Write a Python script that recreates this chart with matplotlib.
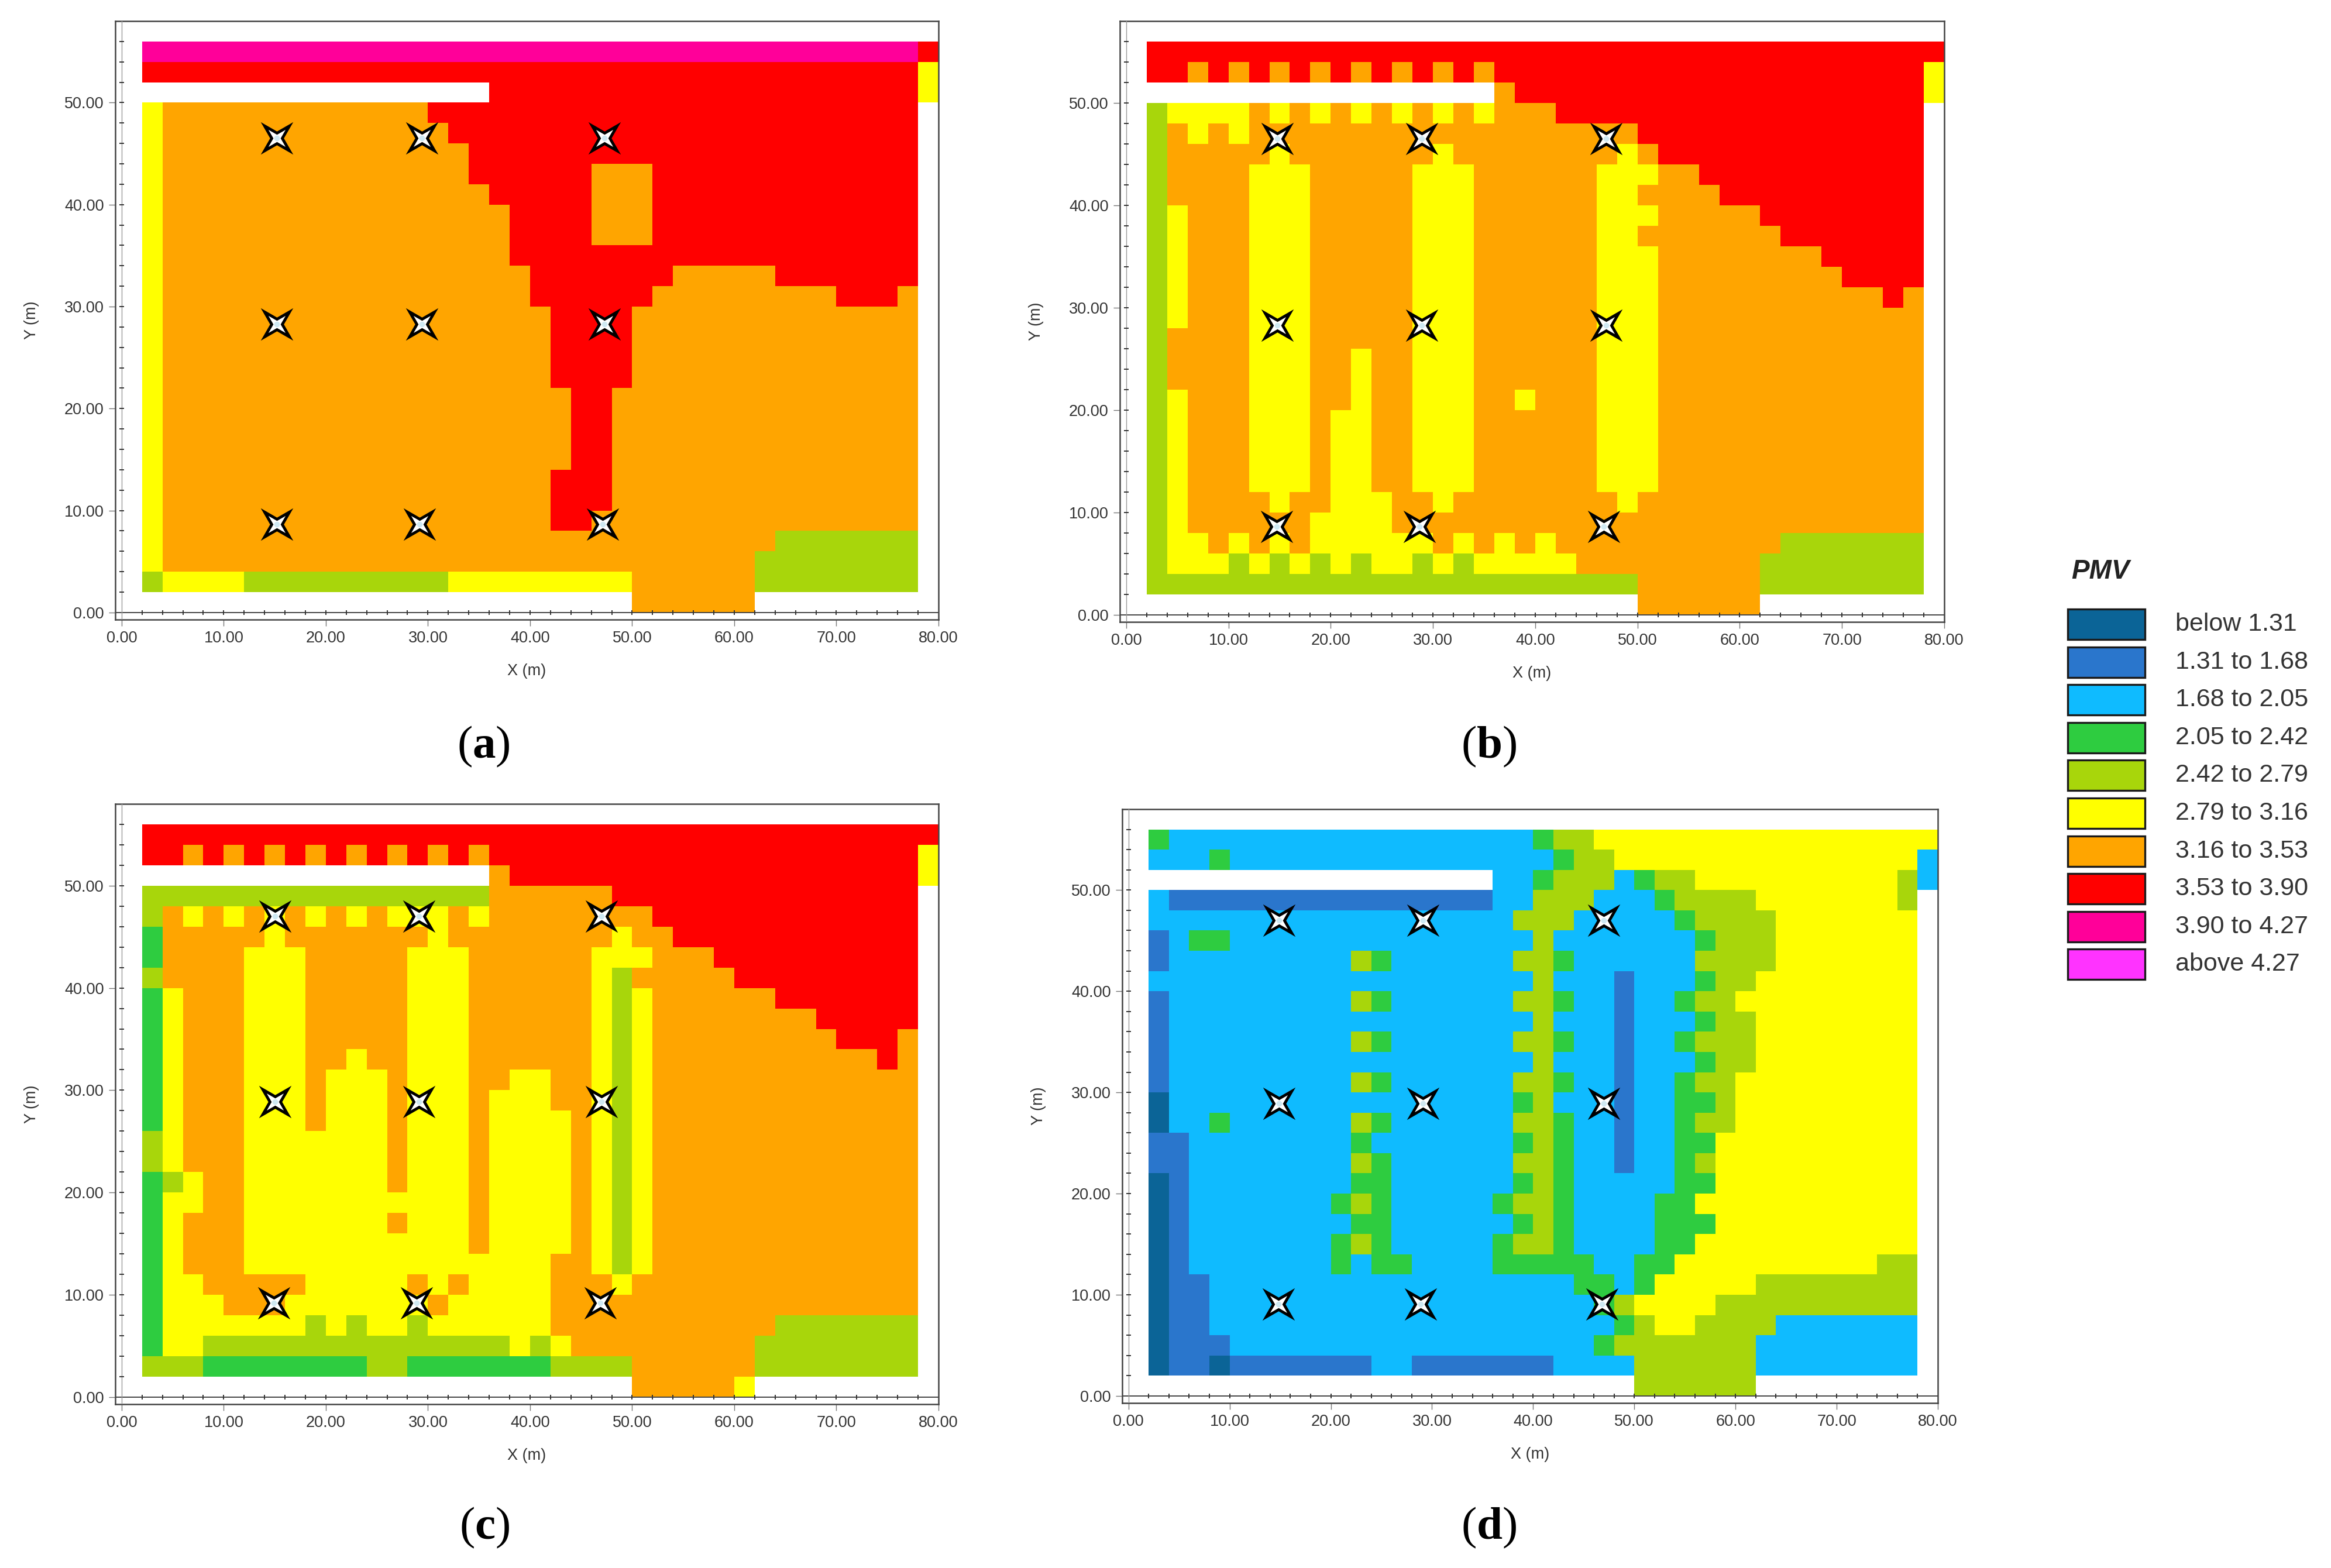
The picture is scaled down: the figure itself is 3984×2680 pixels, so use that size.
import numpy as np
import matplotlib
matplotlib.use("Agg")
import matplotlib.pyplot as plt
from matplotlib.colors import ListedColormap
from matplotlib.patches import Rectangle
from matplotlib.path import Path
from matplotlib.transforms import Affine2D

plt.rcParams['font.family'] = ['Liberation Sans', 'DejaVu Sans']
plt.rcParams['mathtext.fontset'] = 'custom'
plt.rcParams['mathtext.rm'] = 'Liberation Serif'
plt.rcParams['mathtext.bf'] = 'Liberation Serif:bold'

# PMV classes
legend_labels = ["below 1.31", "1.31 to 1.68", "1.68 to 2.05", "2.05 to 2.42", "2.42 to 2.79",
                 "2.79 to 3.16", "3.16 to 3.53", "3.53 to 3.90", "3.90 to 4.27", "above 4.27"]
legend_colors = ["#0B6497", "#2A76CC", "#0FBBFF", "#2ECC40", "#A8D60B",
                 "#FFFF00", "#FFA500", "#FF0000", "#FF0099", "#FF33FF"]

# cell class per 2 m cell, rows from y=54-56 down to y=0-2, blocks of 10 columns (20 m), "." = no cell
grid_a = [
    ".888888888 8888888888 8888888888 8888888887",
    ".777777777 7777777777 7777777777 7777777775",
    ".......... ........77 7777777777 7777777775",
    ".566666666 6666677777 7777777777 777777777.",
    ".566666666 6666667777 7777777777 777777777.",
    ".566666666 6666666777 7777777777 777777777.",
    ".566666666 6666666777 7776667777 777777777.",
    ".566666666 6666666677 7776667777 777777777.",
    ".566666666 6666666667 7776667777 777777777.",
    ".566666666 6666666667 7776667777 777777777.",
    ".566666666 6666666667 7777777777 777777777.",
    ".566666666 6666666666 7777777666 667777777.",
    ".566666666 6666666666 7777776666 666667776.",
    ".566666666 6666666666 6777766666 666666666.",
    ".566666666 6666666666 6777766666 666666666.",
    ".566666666 6666666666 6777766666 666666666.",
    ".566666666 6666666666 6777766666 666666666.",
    ".566666666 6666666666 6677666666 666666666.",
    ".566666666 6666666666 6677666666 666666666.",
    ".566666666 6666666666 6677666666 666666666.",
    ".566666666 6666666666 6677666666 666666666.",
    ".566666666 6666666666 6777666666 666666666.",
    ".566666666 6666666666 6777666666 666666666.",
    ".566666666 6666666666 6776666666 666666666.",
    ".566666666 6666666666 6666666666 664444444.",
    ".566666666 6666666666 6666666666 644444444.",
    ".455554444 4444445555 5555566666 644444444.",
    ".......... .......... .....66666 6.........",
]

grid_b = [
    ".777777777 7777777777 7777777777 7777777777",
    ".776767676 7676767677 7777777777 7777777775",
    ".......... ........67 7777777777 7777777775",
    ".455556565 6565656566 6777777777 777777777.",
    ".465656666 6666666666 6666677777 777777777.",
    ".466666566 6666656666 6666567777 777777777.",
    ".466665556 6666555666 6665556677 777777777.",
    ".466665556 6666555666 6665566667 777777777.",
    ".456665556 6666555666 6665556666 677777777.",
    ".456665556 6666555666 6665566666 667777777.",
    ".456665556 6666555666 6665556666 666677777.",
    ".456665556 6666555666 6665556666 666667777.",
    ".456665556 6666555666 6665556666 666666676.",
    ".456665556 6666555666 6665556666 666666666.",
    ".466665556 6666555666 6665556666 666666666.",
    ".466665556 6566555666 6665556666 666666666.",
    ".466665556 6566555666 6665556666 666666666.",
    ".456665556 6566555665 6665556666 666666666.",
    ".456665556 5566555666 6665556666 666666666.",
    ".456665556 5566555666 6665556666 666666666.",
    ".456665556 5566555666 6665556666 666666666.",
    ".456665556 5566555666 6665556666 666666666.",
    ".456666566 5556656666 6666566666 666666666.",
    ".456666665 5556666666 6666666666 666666666.",
    ".455656565 5555565656 5666666666 664444444.",
    ".455545454 5455454555 5566666666 644444444.",
    ".444444444 4444444444 4444466666 644444444.",
    ".......... .......... .....66666 6.........",
]

grid_c = [
    ".777777777 7777777777 7777777777 7777777777",
    ".776767676 7676767677 7777777777 7777777775",
    ".......... ........67 7777777777 7777777775",
    ".444444444 4444444466 6666777777 777777777.",
    ".465656565 6565556566 6666667777 777777777.",
    ".366666566 6666656666 6666566777 777777777.",
    ".366665556 6666555666 6665556667 777777777.",
    ".466665556 6666555666 6665466666 777777777.",
    ".356665556 6666555666 6665456666 667777777.",
    ".356665556 6666555666 6665456666 666677777.",
    ".356665556 6666555666 6665456666 666667776.",
    ".356665556 6566555666 6665456666 666666676.",
    ".356665556 5556555665 5665456666 666666666.",
    ".356665556 5556555655 5665456666 666666666.",
    ".356665556 5556555655 5565456666 666666666.",
    ".456665555 5556555655 5565456666 666666666.",
    ".456665555 5556555655 5565456666 666666666.",
    ".345665555 5556555655 5565456666 666666666.",
    ".355665555 5555555655 5565456666 666666666.",
    ".356665555 5556555655 5565456666 666666666.",
    ".356665555 5555555655 5565456666 666666666.",
    ".356665555 5555555555 5665456666 666666666.",
    ".355666665 5555656555 5666566666 666666666.",
    ".355566655 5555565555 5666666666 666666666.",
    ".355555554 5455455555 5666666666 664444444.",
    ".355444444 4444444445 4566666666 644444444.",
    ".444333333 3344333333 3444466666 644444444.",
    ".......... .......... .....66666 5.........",
]

grid_d = [
    ".322222222 2222222222 3445555555 5555555555",
    ".222322222 2222222222 2344555555 5555555552",
    ".......... ........22 3444234455 5555555542",
    ".211111111 1111111122 4442223444 455555554.",
    ".222222222 2222222224 4422222344 445555555.",
    ".123322222 2222222222 4222222234 445555555.",
    ".122222222 2432222224 4322222244 445555555.",
    ".222222222 2222222222 4222122234 455555555.",
    ".122222222 2432222224 4322122344 555555555.",
    ".122222222 2222222222 4222122234 455555555.",
    ".122222222 2432222224 4322122344 455555555.",
    ".122222222 2222222222 4222122234 455555555.",
    ".122222222 2432222224 4322122344 555555555.",
    ".022222222 2222222223 4222122334 555555555.",
    ".022322222 2432222224 4322122344 555555555.",
    ".112222222 2322222223 4322122335 555555555.",
    ".112222222 2432222224 4322122345 555555555.",
    ".012222222 2332222223 4322222335 555555555.",
    ".012222222 3432222234 4322223355 555555555.",
    ".012222222 2332222223 4322223335 555555555.",
    ".012222222 3432222234 4322223355 555555555.",
    ".012222222 3233222233 3332233555 555555544.",
    ".011222222 2222222222 2233235555 544444444.",
    ".011222222 2222222222 2223455554 444444444.",
    ".011222222 2222222222 2222345544 442222222.",
    ".011122222 2222222222 2223444444 422222222.",
    ".011011111 1122111111 1222244444 422222222.",
    ".......... .......... .....44444 4.........",
]

# luminaire positions (m)
lamps_a_x = [15.2, 29.4, 47.3, 15.2, 29.4, 47.3, 15.2, 29.2, 47.1]
lamps_a_y = [46.5, 46.5, 46.5, 28.3, 28.3, 28.3, 8.65, 8.65, 8.65]
lamps_b_x = [14.8, 28.9, 46.9, 14.8, 28.9, 46.9, 14.7, 28.7, 46.7]
lamps_b_y = [46.5, 46.5, 46.5, 28.3, 28.3, 28.3, 8.6, 8.6, 8.6]
lamps_c_x = [15.0, 29.1, 47.0, 15.0, 29.1, 47.0, 14.9, 28.9, 46.9]
lamps_c_y = [47.0, 47.0, 47.0, 28.9, 28.9, 28.9, 9.2, 9.2, 9.2]
lamps_d_x = [14.9, 29.1, 47.0, 14.9, 29.1, 47.0, 14.8, 28.9, 46.8]
lamps_d_y = [47.0, 47.0, 47.0, 28.9, 28.9, 28.9, 9.1, 9.1, 9.1]

x_ticks = [0, 10, 20, 30, 40, 50, 60, 70, 80]
y_ticks = [0, 10, 20, 30, 40, 50]

W, H = 3984, 2680
fig = plt.figure(figsize=(W / 100, H / 100), dpi=100, facecolor='white')
cmap = ListedColormap(legend_colors)
star = Path.unit_regular_star(4, innerCircle=0.3).transformed(Affine2D().rotate_deg(45))
grey = '#444444'


def add_panel(grid, lamps_x, lamps_y, box, letter, letter_xy):
    left, top, right, bottom = box
    ax = fig.add_axes([left / W, 1 - bottom / H, (right - left) / W, (bottom - top) / H])
    rows = [[np.nan if ch == '.' else int(ch) for ch in r.replace(' ', '')] for r in grid[::-1]]
    ax.pcolormesh(np.arange(0, 82, 2), np.arange(0, 58, 2), np.array(rows, dtype=float),
                  cmap=cmap, vmin=-0.5, vmax=9.5, antialiased=False, linewidth=0)
    ax.set_xlim(-0.62, 80)
    ax.set_ylim(-0.7, 58)

    ax.axhline(0, color=grey, lw=1.4, zorder=3)
    ax.axvline(0, color='#999999', lw=1.0, zorder=3)
    for s in ax.spines.values():
        s.set_color(grey)
        s.set_linewidth(1.8)

    ax.set_xticks(x_ticks)
    ax.set_xticklabels([f"{v:.2f}" for v in x_ticks])
    ax.set_yticks(y_ticks)
    ax.set_yticklabels([f"{v:.2f}" for v in y_ticks])
    ax.tick_params(axis='both', length=8, width=1.0, color='#777777', labelsize=19.5,
                   labelcolor='#333333', pad=6)
    # small ticks every 2 m sit on the zero lines
    ax.plot(np.arange(2, 80, 2), np.zeros(39), '|', color='#333333', ms=6, mew=1.4, zorder=4, clip_on=False)
    ax.plot(np.zeros(28), np.arange(2, 58, 2), '_', color='#333333', ms=6, mew=1.4, zorder=4, clip_on=False)

    ax.set_xlabel("X (m)", fontsize=19.5, color='#333333', labelpad=21)
    ax.set_ylabel("Y (m)", fontsize=19.5, color='#333333', labelpad=31)

    ax.plot(lamps_x, lamps_y, ls='none', marker=star, ms=40, mfc='black', mec='black', mew=0, zorder=5)
    ax.plot(lamps_x, lamps_y, ls='none', marker=star, ms=21, mfc='white', mec='white', mew=0, zorder=6)
    ax.plot(lamps_x, lamps_y, ls='none', marker='o', ms=7, mfc='#CFE8F2', mec='none', zorder=7)

    fig.text(letter_xy[0] / W, 1 - letter_xy[1] / H, "($\\mathbf{" + letter + "}$)", ha='center', va='center',
             fontsize=57, family='Liberation Serif', color='black')


add_panel(grid_a, lamps_a_x, lamps_a_y, (197, 36, 1604, 1059), 'a', (826, 1276))
add_panel(grid_b, lamps_b_x, lamps_b_y, (1914, 36, 3323, 1063), 'b', (2545, 1276))
add_panel(grid_c, lamps_c_x, lamps_c_y, (197, 1374, 1604, 2400), 'c', (828, 2611))
add_panel(grid_d, lamps_d_x, lamps_d_y, (1918, 1383, 3312, 2398), 'd', (2545, 2611))

# legend
fig.text(3540 / W, 1 - 977 / H, "PMV", fontsize=33, style='italic', weight='bold', color='#222222',
         ha='left', va='center')
for i, (lab, col) in enumerate(zip(legend_labels, legend_colors)):
    yc = 1067 + i * 64.6
    fig.add_artist(Rectangle((3534 / W, 1 - (yc + 26) / H), 132 / W, 52 / H, transform=fig.transFigure,
                             facecolor=col, edgecolor='#1a1a1a', linewidth=2.4))
    fig.text(3718 / W, 1 - yc / H, lab, fontsize=31, color='#333333', ha='left', va='center')

fig.savefig('out.png', dpi=100, facecolor='white')
